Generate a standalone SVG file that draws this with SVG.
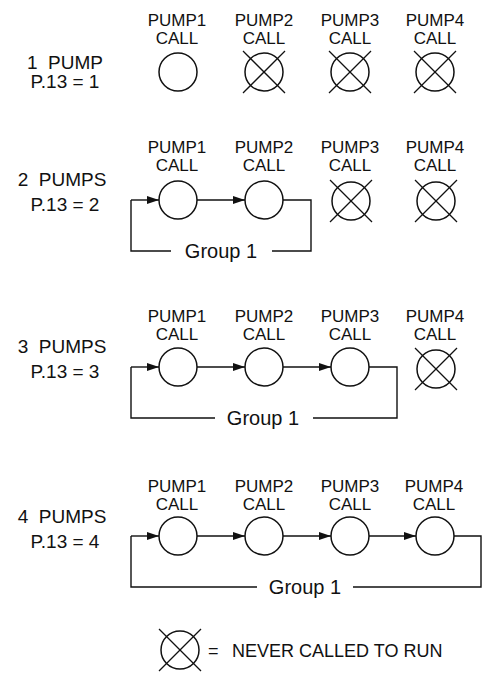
<svg xmlns="http://www.w3.org/2000/svg" width="486" height="673" viewBox="0 0 486 673">
<style>
text{font-family:"Liberation Sans",Arial,sans-serif;fill:#111;white-space:pre;}
.lbl{font-size:17px;text-anchor:middle;}
.row{font-size:19px;text-anchor:middle;}
.grp{font-size:20px;text-anchor:middle;}
.leg{font-size:18px;}
.c{fill:#fff;stroke:#111;stroke-width:1.5;}
.x{stroke:#111;stroke-width:1.3;}
.ln{fill:none;stroke:#111;stroke-width:1.4;}
</style>
<defs>
<marker id="ah" markerWidth="12" markerHeight="8" refX="12" refY="4" orient="auto" markerUnits="userSpaceOnUse">
<path d="M0,0 L12,4 L0,8 Z" fill="#111"/>
</marker>
<g id="cross"><line class="x" x1="-21" y1="-21" x2="21" y2="21"/><line class="x" x1="21" y1="-21" x2="-21" y2="21"/></g>
</defs>
<rect width="486" height="673" fill="#fff"/>

<g id="connectors">
<line class="ln" x1="131" y1="200" x2="159" y2="200" marker-end="url(#ah)"/>
<line class="ln" x1="197" y1="200" x2="245" y2="200" marker-end="url(#ah)"/>
<polyline class="ln" points="283,200 311,200 311,251 272,251"/>
<polyline class="ln" points="171,251 131,251 131,200"/>
<line class="ln" x1="131" y1="367" x2="159" y2="367" marker-end="url(#ah)"/>
<line class="ln" x1="197" y1="367" x2="245" y2="367" marker-end="url(#ah)"/>
<line class="ln" x1="283" y1="367" x2="331" y2="367" marker-end="url(#ah)"/>
<polyline class="ln" points="369,367 397,367 397,418 313,418"/>
<polyline class="ln" points="215,418 131,418 131,367"/>
<line class="ln" x1="131" y1="536" x2="159" y2="536" marker-end="url(#ah)"/>
<line class="ln" x1="197" y1="536" x2="245" y2="536" marker-end="url(#ah)"/>
<line class="ln" x1="283" y1="536" x2="331" y2="536" marker-end="url(#ah)"/>
<line class="ln" x1="369" y1="536" x2="416" y2="536" marker-end="url(#ah)"/>
<polyline class="ln" points="454,536 481,536 481,587 353,587"/>
<polyline class="ln" points="257,587 131,587 131,536"/>
</g>

<g id="row1">
<text class="row" x="65" y="69" xml:space="preserve">1  PUMP</text>
<text class="row" x="65" y="88">P.13 = 1</text>
<g id="r1p1"><text class="lbl" x="177" y="26">PUMP1</text><text class="lbl" x="177" y="44">CALL</text><circle class="c" cx="178" cy="72" r="19"/></g>
<g id="r1p2"><text class="lbl" x="264" y="26">PUMP2</text><text class="lbl" x="264" y="44">CALL</text><circle class="c" cx="264" cy="72" r="19"/><use href="#cross" x="264" y="72"/></g>
<g id="r1p3"><text class="lbl" x="350" y="26">PUMP3</text><text class="lbl" x="350" y="44">CALL</text><circle class="c" cx="350" cy="72" r="19"/><use href="#cross" x="350" y="72"/></g>
<g id="r1p4"><text class="lbl" x="435" y="26">PUMP4</text><text class="lbl" x="435" y="44">CALL</text><circle class="c" cx="435" cy="72" r="19"/><use href="#cross" x="435" y="72"/></g>
</g>

<g id="row2">
<text class="row" x="62" y="186" xml:space="preserve">2  PUMPS</text>
<text class="row" x="65" y="211">P.13 = 2</text>
<g id="r2p1"><text class="lbl" x="177" y="153">PUMP1</text><text class="lbl" x="177" y="171">CALL</text><circle class="c" cx="178" cy="200" r="19"/></g>
<g id="r2p2"><text class="lbl" x="264" y="153">PUMP2</text><text class="lbl" x="264" y="171">CALL</text><circle class="c" cx="264" cy="200" r="19"/></g>
<g id="r2p3"><text class="lbl" x="350" y="153">PUMP3</text><text class="lbl" x="350" y="171">CALL</text><circle class="c" cx="351" cy="201" r="19"/><use href="#cross" x="351" y="201"/></g>
<g id="r2p4"><text class="lbl" x="435" y="153">PUMP4</text><text class="lbl" x="435" y="171">CALL</text><circle class="c" cx="436" cy="201" r="19"/><use href="#cross" x="436" y="201"/></g>
<text class="grp" x="221" y="258">Group 1</text>
</g>

<g id="row3">
<text class="row" x="62" y="353" xml:space="preserve">3  PUMPS</text>
<text class="row" x="65" y="378">P.13 = 3</text>
<g id="r3p1"><text class="lbl" x="177" y="322">PUMP1</text><text class="lbl" x="177" y="340">CALL</text><circle class="c" cx="178" cy="367" r="19"/></g>
<g id="r3p2"><text class="lbl" x="264" y="322">PUMP2</text><text class="lbl" x="264" y="340">CALL</text><circle class="c" cx="264" cy="367" r="19"/></g>
<g id="r3p3"><text class="lbl" x="350" y="322">PUMP3</text><text class="lbl" x="350" y="340">CALL</text><circle class="c" cx="350" cy="367" r="19"/></g>
<g id="r3p4"><text class="lbl" x="435" y="322">PUMP4</text><text class="lbl" x="435" y="340">CALL</text><circle class="c" cx="436" cy="369" r="19"/><use href="#cross" x="436" y="369"/></g>
<text class="grp" x="263" y="425">Group 1</text>
</g>

<g id="row4">
<text class="row" x="62" y="523" xml:space="preserve">4  PUMPS</text>
<text class="row" x="65" y="548">P.13 = 4</text>
<g id="r4p1"><text class="lbl" x="177" y="492">PUMP1</text><text class="lbl" x="177" y="510">CALL</text><circle class="c" cx="178" cy="536" r="19"/></g>
<g id="r4p2"><text class="lbl" x="264" y="492">PUMP2</text><text class="lbl" x="264" y="510">CALL</text><circle class="c" cx="264" cy="536" r="19"/></g>
<g id="r4p3"><text class="lbl" x="350" y="492">PUMP3</text><text class="lbl" x="350" y="510">CALL</text><circle class="c" cx="350" cy="536" r="19"/></g>
<g id="r4p4"><text class="lbl" x="434" y="492">PUMP4</text><text class="lbl" x="434" y="510">CALL</text><circle class="c" cx="435" cy="536" r="19"/></g>
<text class="grp" x="305" y="594">Group 1</text>
</g>

<g id="legend">
<circle class="c" cx="180" cy="650" r="19"/><use href="#cross" x="180" y="650"/>
<text class="leg" x="208" y="657">=</text>
<text class="leg" x="232" y="657">NEVER CALLED TO RUN</text>
</g>
</svg>
